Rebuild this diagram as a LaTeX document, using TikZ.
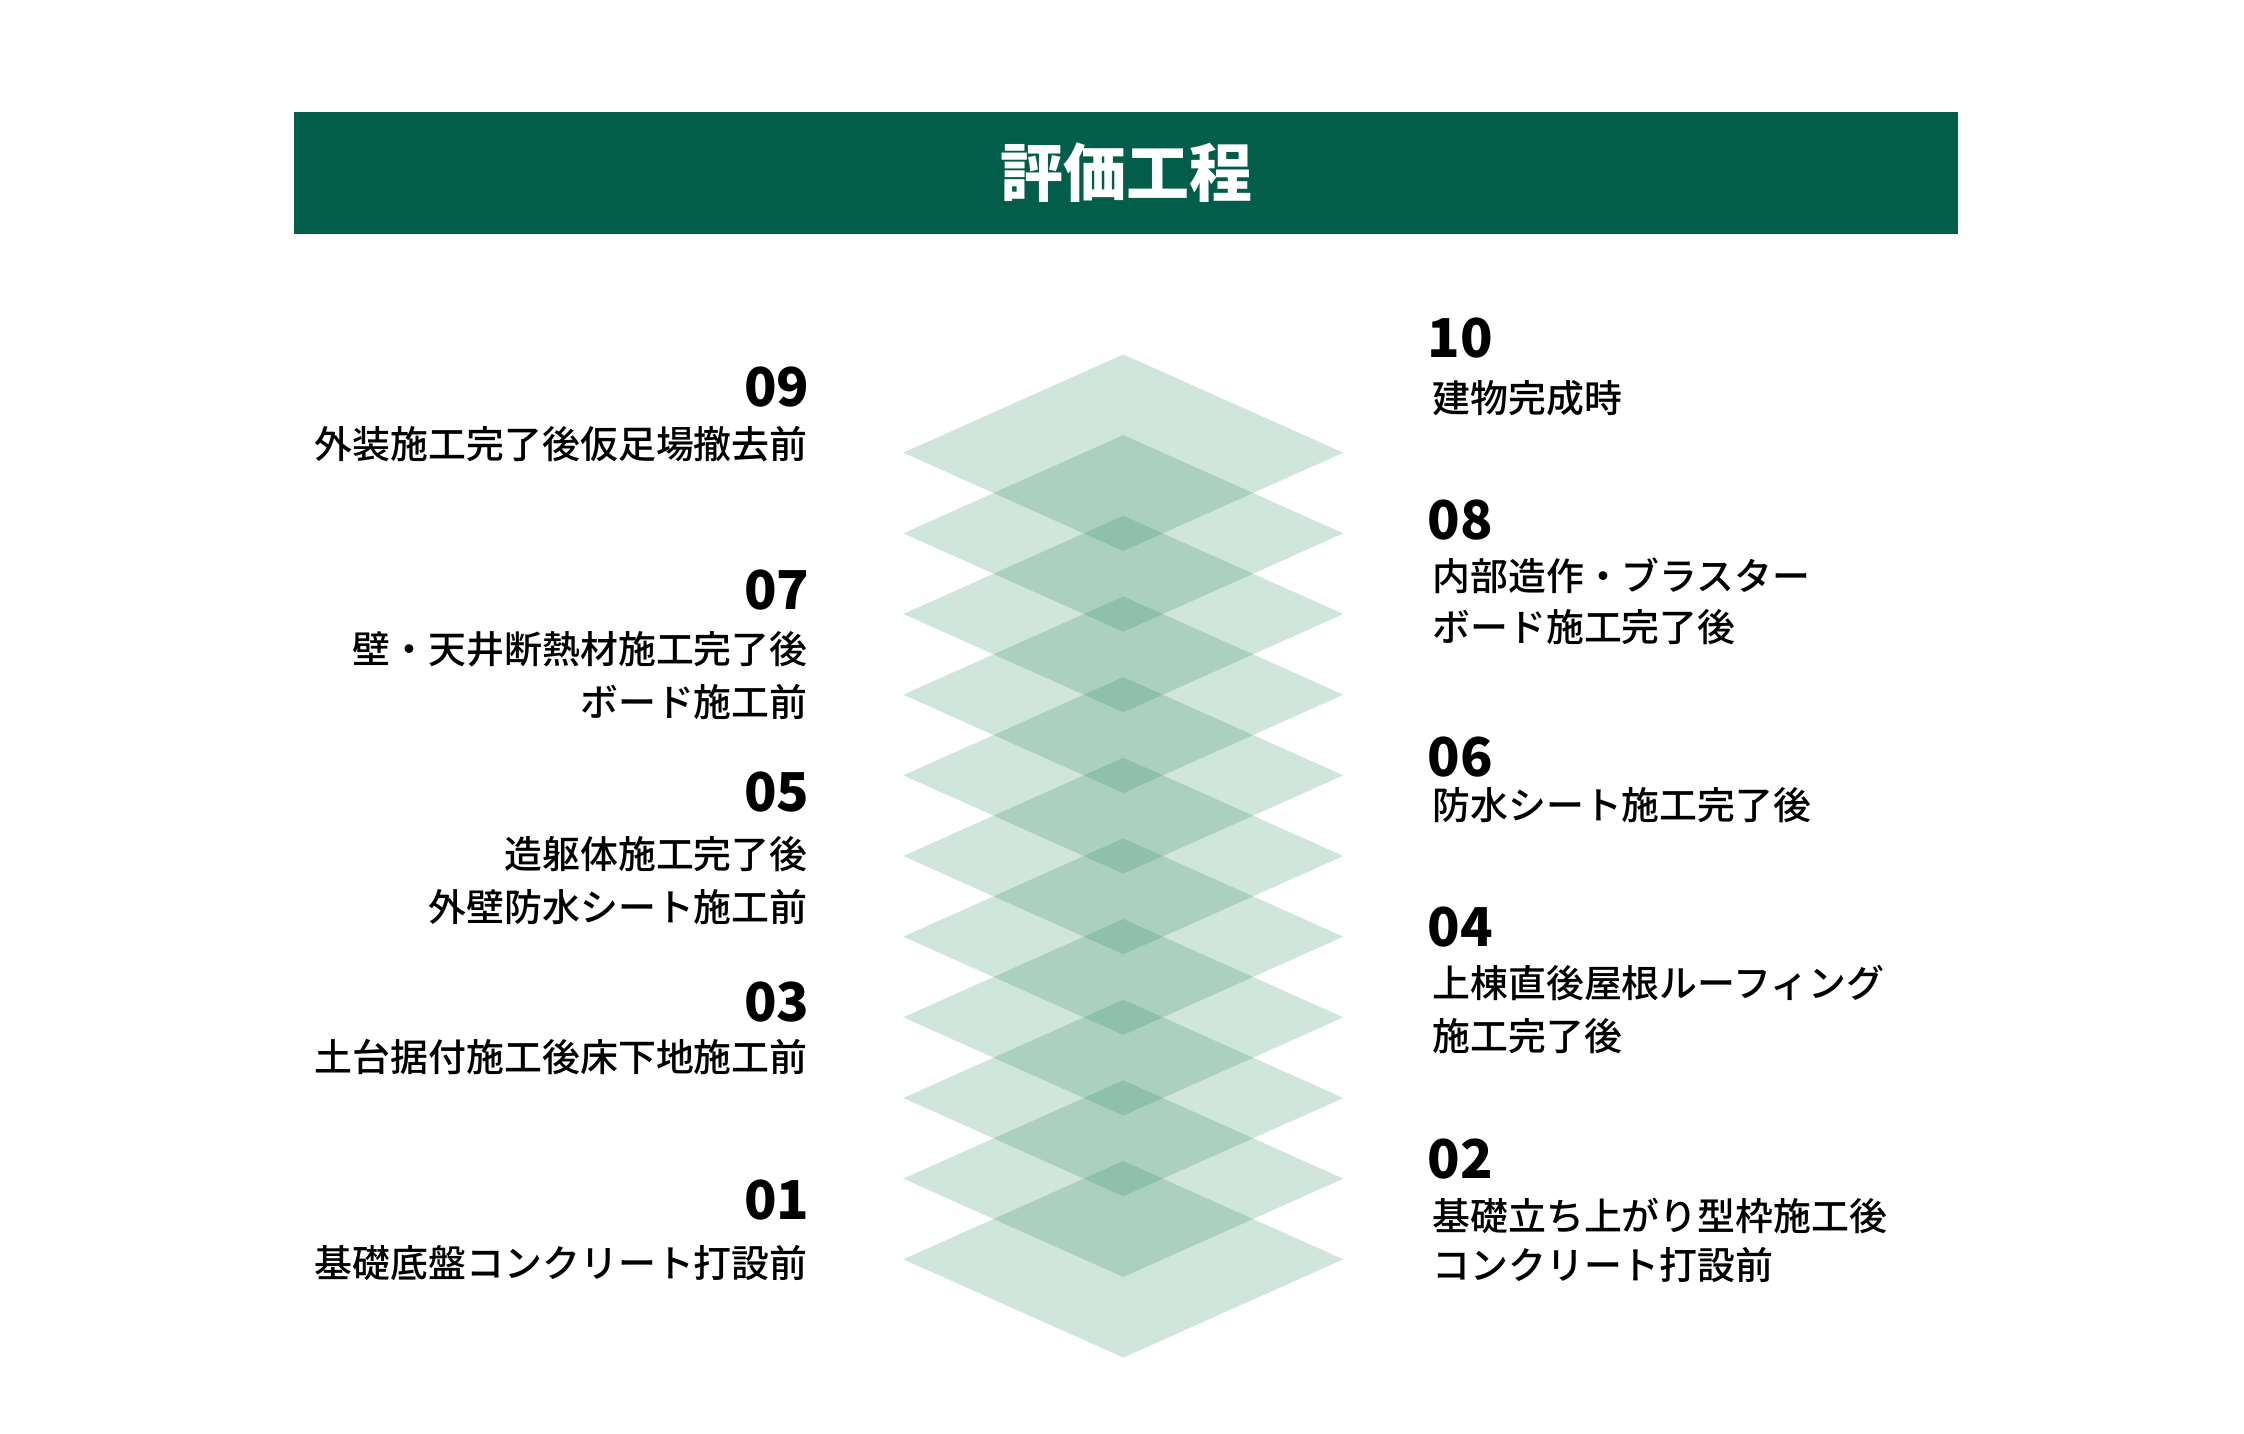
\documentclass[tikz,border=0pt]{standalone}
\usepackage{fontspec}
\setmainfont{Noto Sans CJK JP}
\newfontfamily\medfont{Noto Sans CJK JP Medium}
\definecolor{barGreen}{RGB}{2,94,74}
\definecolor{layerGreen}{RGB}{40,135,95}

\begin{document}
\begin{tikzpicture}[x=0.5pt, y=-0.5pt,
    titlebar/.style={fill=barGreen, text=white, inner sep=0pt, minimum width=832pt, minimum height=61pt, font=\fontsize{31.5}{36}\selectfont\bfseries},
    num/.style={inner sep=0pt, font=\fontsize{26.8}{30}\selectfont\bfseries},
    lbl/.style={inner sep=0pt, font=\fontsize{18.95}{22}\selectfont\medfont},
    layer/.style={fill=layerGreen, fill opacity=0.22}]
  \useasboundingbox (0,0) rectangle (2244,1434);

  \node[titlebar] (title) at (1126,173) {評価工程};

  % stacked layers
  \foreach \k in {0,...,10}
    \fill[layer] (1123.3,{354.4+80.66*\k}) -- ++(220,98.3) -- ++(-220,98.3) -- ++(-220,-98.3) -- cycle;

  % left column
  \node[num, anchor=east] (n09) at (810,386.7) {09};
  \node[lbl, anchor=east] (t09) at (808,444) {外装施工完了後仮足場撤去前};
  \node[num, anchor=east] (n07) at (810,590.3) {07};
  \node[lbl, anchor=east] (t07a) at (808,649) {壁・天井断熱材施工完了後};
  \node[lbl, anchor=east] (t07b) at (808,702.5) {ボード施工前};
  \node[num, anchor=east] (n05) at (810,792) {05};
  \node[lbl, anchor=east] (t05a) at (808,854.5) {造躯体施工完了後};
  \node[lbl, anchor=east] (t05b) at (808,907) {外壁防水シート施工前};
  \node[num, anchor=east] (n03) at (810,1001.8) {03};
  \node[lbl, anchor=east] (t03) at (808,1056.9) {土台据付施工後床下地施工前};
  \node[num, anchor=east] (n01) at (810,1200.5) {01};
  \node[lbl, anchor=east] (t01) at (808,1262.8) {基礎底盤コンクリート打設前};

  % right column
  \node[num, anchor=west] (n10) at (1427,338.3) {10};
  \node[lbl, anchor=west] (t10) at (1432,398.3) {建物完成時};
  \node[num, anchor=west] (n08) at (1427,519.7) {08};
  \node[lbl, anchor=west] (t08a) at (1432,575.3) {内部造作・ブラスター};
  \node[lbl, anchor=west] (t08b) at (1432,627.5) {ボード施工完了後};
  \node[num, anchor=west] (n06) at (1427,757) {06};
  \node[lbl, anchor=west] (t06) at (1432,805.5) {防水シート施工完了後};
  \node[num, anchor=west] (n04) at (1427,926.7) {04};
  \node[lbl, anchor=west] (t04a) at (1432,983) {上棟直後屋根ルーフィング};
  \node[lbl, anchor=west] (t04b) at (1432,1036) {施工完了後};
  \node[num, anchor=west] (n02) at (1427,1158.6) {02};
  \node[lbl, anchor=west] (t02a) at (1432,1216.3) {基礎立ち上がり型枠施工後};
  \node[lbl, anchor=west] (t02b) at (1432,1265.5) {コンクリート打設前};
\end{tikzpicture}
\end{document}
